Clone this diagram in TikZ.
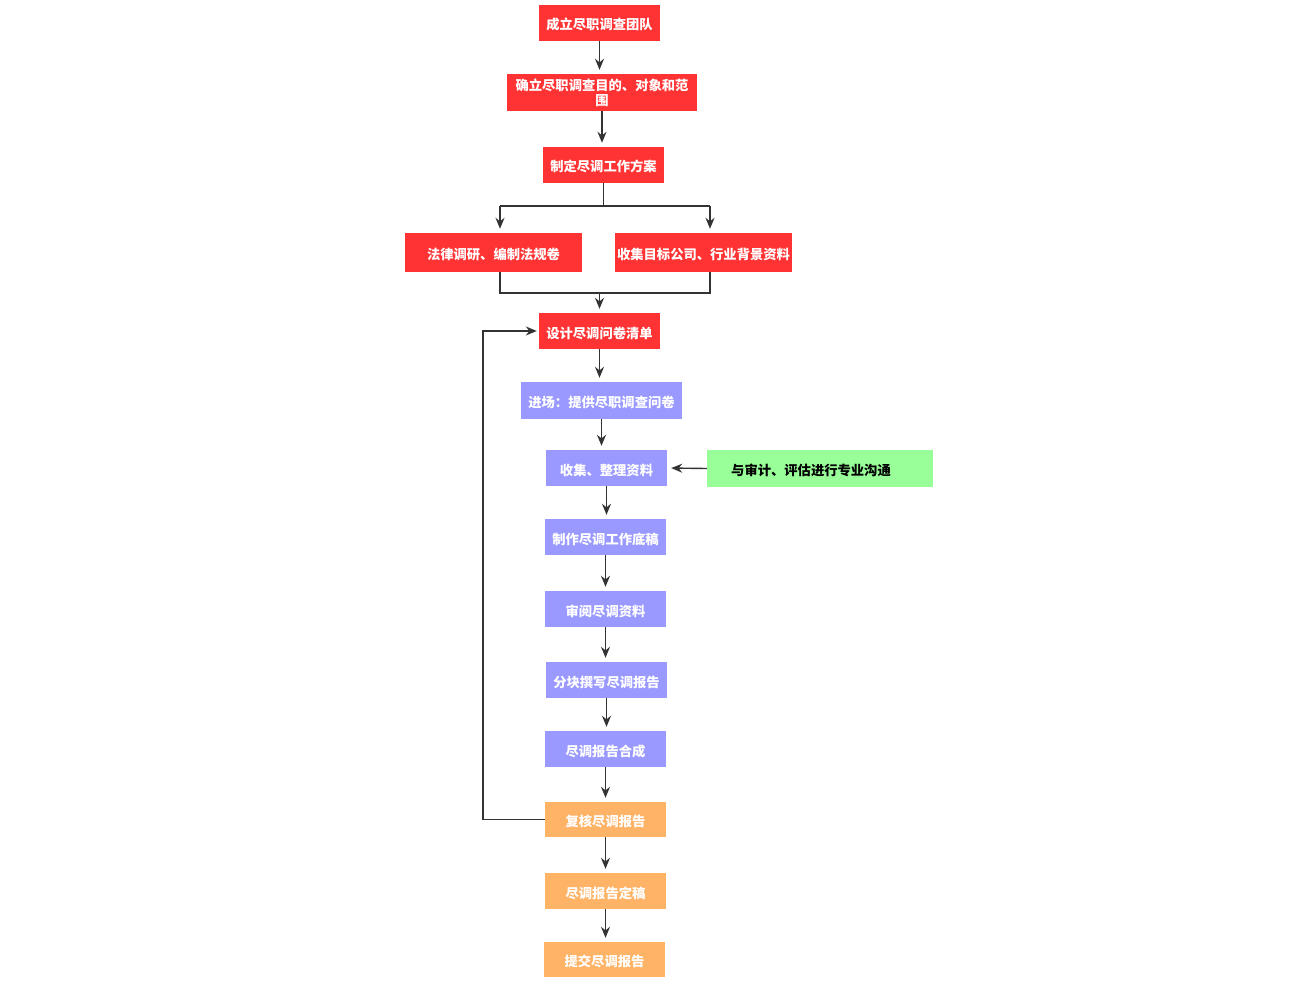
\documentclass[tikz,border=0pt]{standalone}
\usepackage{fontspec}
\setmainfont{Noto Sans CJK SC}
\usetikzlibrary{arrows.meta}
\definecolor{cred}{RGB}{255,51,51}
\definecolor{cpur}{RGB}{153,153,255}
\definecolor{cgrn}{RGB}{153,255,153}
\definecolor{corg}{RGB}{255,179,102}
\definecolor{cline}{RGB}{51,51,51}
\begin{document}
\begin{tikzpicture}[x=1pt,y=-1pt,
  box/.style={rectangle,inner sep=0pt,minimum width=121pt,minimum height=36pt,
    font=\fontsize{13.3}{15}\selectfont\bfseries,text=white,align=center},
  sbox/.style={box,text height=15.5pt,text depth=1.5pt},
  rbox/.style={sbox,fill=cred},
  pbox/.style={sbox,fill=cpur},
  obox/.style={sbox,fill=corg},
  gbox/.style={sbox,fill=cgrn,text=black},
  conn/.style={draw=cline,line width=1.4pt},
  arr/.style={conn,-{Stealth[length=11pt,width=9pt]},shorten >=4pt}]
\useasboundingbox (0,0) rectangle (1289,984);
\node[rbox] (b1) at (599.5,23) {成立尽职调查团队};
\node[box,fill=cred,minimum width=190pt,minimum height=37pt] (b2) at (602,92.5) {确立尽职调查目的、对象和范\\围};
\node[rbox] (b3) at (603.5,165) {制定尽调工作方案};
\node[rbox,minimum width=177pt,minimum height=39pt] (b4) at (493.5,252.5) {法律调研、编制法规卷};
\node[rbox,minimum width=177pt,minimum height=39pt] (b5) at (703.5,252.5) {收集目标公司、行业背景资料};
\node[rbox] (b6) at (599.5,331) {设计尽调问卷清单};
\node[pbox,minimum width=161pt,minimum height=37pt] (b7) at (601.5,400.5) {进场：提供尽职调查问卷};
\node[pbox] (b8) at (606.5,468) {收集、整理资料};
\node[gbox,minimum width=226pt,minimum height=37pt] (g) at (820,468.5) {与审计、评估进行专业沟通\hspace*{18pt}};
\node[pbox] (b9) at (605.5,537) {制作尽调工作底稿};
\node[pbox] (b10) at (605.5,609) {审阅尽调资料};
\node[pbox] (b11) at (606.5,680) {分块撰写尽调报告};
\node[pbox] (b12) at (605.5,749) {尽调报告合成};
\node[obox,minimum height=35pt] (b13) at (605.5,819.5) {复核尽调报告};
\node[obox] (b14) at (605.5,891) {尽调报告定稿};
\node[obox,minimum height=35pt] (b15) at (604.5,959.5) {提交尽调报告};
% split
\coordinate (sL) at (500,206);
\coordinate (sR) at (710,206);
\draw[conn] (b3.south) -- (b3.south |- sL);
\draw[conn] (sL) -- (sR);
\draw[arr] (sL) -- (sL |- b4.north);
\draw[arr] (sR) -- (sR |- b5.north);
% merge
\coordinate (mL) at (500,293);
\coordinate (mR) at (710,293);
\draw[conn] (mL |- b4.south) -- (mL) -- (mR) -- (mR |- b5.south);
\draw[arr] (b6.north |- mL) -- (b6.north);
% chain
\draw[arr] (b1.south) -- (b1.south |- b2.north);
\draw[arr] (b2.south) -- (b2.south |- b3.north);
\draw[arr] (b6.south) -- (b6.south |- b7.north);
\draw[arr] (b7.south) -- (b7.south |- b8.north);
\draw[arr] (b8.south) -- (b8.south |- b9.north);
\draw[arr] (b9.south) -- (b9.south |- b10.north);
\draw[arr] (b10.south) -- (b10.south |- b11.north);
\draw[arr] (b11.south) -- (b11.south |- b12.north);
\draw[arr] (b12.south) -- (b12.south |- b13.north);
\draw[arr] (b13.south) -- (b13.south |- b14.north);
\draw[arr] (b14.south) -- (b14.south |- b15.north);
% side
\draw[arr] (g.west) -- (b8.east);
\coordinate (fb) at (483,0);
\draw[arr,shorten >=2pt] (b13.west) -- (b13.west -| fb) -- (fb |- b6.west) -- (b6.west);
\end{tikzpicture}
\end{document}
